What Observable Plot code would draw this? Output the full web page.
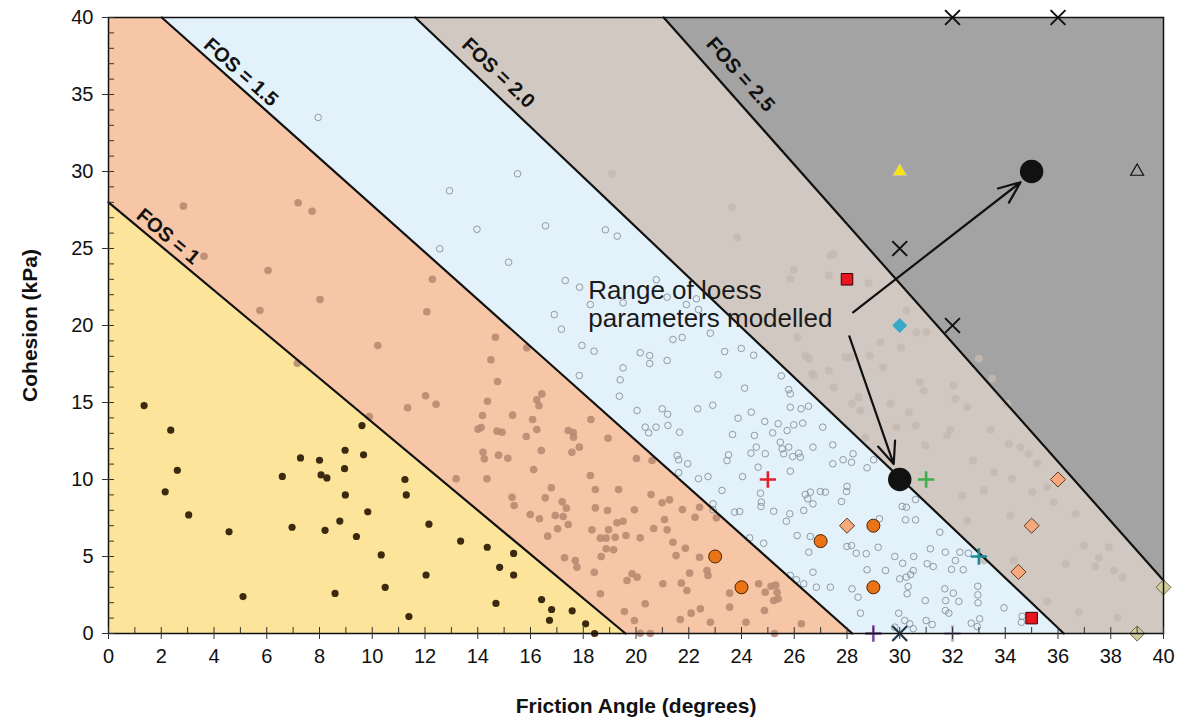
<!DOCTYPE html>
<html><head><meta charset="utf-8">
<script src="https://cdn.jsdelivr.net/npm/d3@7"></script>
<script src="https://cdn.jsdelivr.net/npm/@observablehq/plot@0.6"></script>
<style>body{margin:0;background:#fff}#chart{width:1184px;height:726px}</style>
</head><body><div id="chart"></div>
<script>
// FOS boundary lines [friction angle, cohesion]
const fos1  = [[0,28],[19.6,0]];
const fos15 = [[2.02,40],[28.2,0]];
const fos20 = [[11.63,40],[36.22,0]];
const fos25 = [[21.05,40],[40,3.44]];
const fosLabels = ["FOS = 1","FOS = 1.5","FOS = 2.0","FOS = 2.5"];
const fosLabelX = [2.26,5.02,14.78,23.96];
const fosLabelY = [25.78,36.45,36.4,36.3];
const fosLabelAngle = [39.8,41.8,43.5,48.4];
const regionColors = ["#fce59a","#f7c6a6","#e2f1fa","#d1c9c1","#a3a3a3"];

// scattered case-history points
const lowDots = [[1.35,14.8],[2.36,13.2],[2.61,10.6],[2.15,9.2],[3.04,7.7],[4.57,6.6],[5.10,2.4],[6.59,10.2],[6.96,6.9],[7.28,11.4],[8.0,11.25],[8.06,10.3],[8.28,10.1],[8.21,6.7],[8.59,2.6],[8.77,7.3],[8.97,11.9],[8.95,10.7],[8.98,9.0],[9.40,6.3],[9.61,13.5],[9.67,11.6],[9.83,7.9],[10.34,5.1],[10.49,3.0],[11.24,10.0],[11.29,9.0],[11.39,1.1],[12.04,3.8],[12.15,7.1],[13.35,6.0],[14.36,5.6],[14.69,1.95],[14.83,4.3],[15.36,5.2],[15.36,3.8],[16.42,2.2],[16.72,0.86],[16.80,1.56],[17.58,1.47],[18.09,0.63],[18.43,0]];

const midDots = [[2.84,27.75],[7.19,27.97],[7.72,27.42],[3.62,24.5],[6.05,23.57],[8.02,21.69],[5.74,20.97],[12.28,23.0],[12.07,20.89],[10.21,18.7],[7.16,17.55],[14.67,19.24],[14.5,17.77],[14.75,16.36],[14.37,15.08],[12.02,15.44],[12.42,14.89],[11.34,14.66],[14.18,14.16],[9.89,14.09],[14.01,13.27],[14.13,13.38],[14.73,13.14],[14.2,11.77],[14.25,11.34],[14.79,11.58],[13.18,10.05],[14.35,10.05],[16.43,15.56],[16.24,15.18],[16.32,14.79],[15.32,14.18],[16.08,13.9],[18.29,13.9],[14.92,13.07],[16.24,13.25],[17.43,13.18],[17.62,13.05],[15.84,12.79],[17.63,12.75],[18.94,12.68],[16.41,11.88],[17.57,11.77],[17.85,12.1],[15.14,11.38],[20.02,11.36],[20.61,11.23],[16.12,10.65],[18.27,10.26],[15.86,18.55],[15.3,8.85],[15.38,8.31],[16.79,9.46],[16.56,8.81],[18.46,9.35],[19.34,9.35],[20.57,9.03],[20.99,8.49],[21.27,8.68],[21.76,8.05],[22.41,8.2],[22.24,7.55],[23.05,7.51],[17.2,8.55],[17.36,8.14],[15.99,7.73],[16.34,7.45],[16.94,7.66],[17.24,7.6],[17.43,7.08],[17.03,6.8],[16.65,6.32],[18.46,8.16],[18.92,7.99],[19.94,8.03],[21.08,7.4],[20.67,6.82],[21.18,6.73],[19.28,7.19],[19.51,7.29],[18.96,6.73],[19.62,6.36],[18.65,6.19],[18.87,6.19],[19.21,6.25],[20.16,6.21],[18.33,6.73],[21.4,5.93],[21.87,5.54],[21.52,5.06],[22.41,4.95],[18.87,5.5],[18.68,5.0],[19.15,5.44],[17.29,4.92],[17.7,4.74],[17.76,4.31],[19.85,3.88],[20.04,3.66],[19.66,3.44],[18.42,3.98],[21.02,3.23],[21.72,3.27],[21.93,2.79],[22.03,3.92],[22.69,4.09],[22.73,3.77],[23.55,2.62],[24.65,3.23],[24.9,2.68],[25.12,3.07],[25.3,3.14],[25.35,2.68],[25.22,2.14],[25.39,2.25],[23.55,1.71],[24.87,1.49],[22.44,1.6],[22.09,1.32],[21.68,0.91],[22.82,0.73],[24.17,0.73],[26.27,0.63],[20.35,1.93],[19.94,0.84],[19.56,1.43],[18.65,2.58],[20.16,0.02],[20.54,0],[25.25,0]];

const openCircles = [[7.95,33.51],[12.93,28.75],[13.97,26.25],[12.56,24.98],[15.51,29.85],[16.57,26.47],[18.84,26.21],[19.29,25.8],[15.17,24.11],[17.32,22.92],[17.86,22.49],[18.27,21.36],[19.51,21.47],[16.9,20.71],[17.17,19.76],[17.95,18.7],[18.41,18.33],[20.16,18.23],[20.52,18.05],[20.52,17.53],[21.18,17.73],[21.4,19.09],[21.75,19.22],[21.91,21.36],[22.37,21.04],[21.18,21.84],[20.77,22.97],[22.29,21.73],[22.82,19.5],[23.36,18.31],[23.99,18.51],[24.46,18.07],[17.85,16.75],[19.51,17.25],[19.4,16.47],[19.37,15.41],[23.11,16.8],[24.12,15.93],[25.51,16.73],[25.79,15.84],[25.85,15.56],[20.04,14.48],[20.99,14.59],[21.2,14.24],[22.34,14.59],[22.91,14.82],[24.37,14.37],[25.85,14.69],[26.26,14.59],[26.54,14.76],[23.87,13.98],[24.88,13.77],[25.39,13.62],[25.98,13.55],[26.32,13.66],[27.08,13.4],[25.18,13.03],[25.73,13.18],[20.35,13.4],[20.48,13.03],[20.76,13.4],[21.65,13.07],[23.66,12.92],[24.49,12.86],[25.47,12.42],[25.79,12.1],[25.54,11.99],[27.46,12.25],[26.71,12.1],[24.56,12.1],[23.51,11.6],[23.45,11.23],[24.36,11.71],[24.9,11.67],[25.6,11.67],[25.94,11.49],[26.23,11.45],[27.85,11.28],[28.17,11.12],[28.23,11.67],[28.76,10.76],[29.01,11.28],[21.56,11.56],[21.62,11.28],[21.96,11.02],[21.62,10.45],[22.37,10.05],[22.73,10.19],[24.04,10.19],[24.63,10.8],[25.85,10.54],[21.21,13.51],[27.46,11.02],[23.26,9.29],[24.72,9.11],[24.75,8.53],[24.74,8.25],[25.22,7.94],[25.83,7.77],[25.7,7.29],[23.74,7.88],[23.93,7.92],[22.92,8.42],[22.92,8.03],[26.36,7.99],[26.51,8.75],[26.42,9.03],[26.61,9.18],[26.71,8.42],[26.99,9.22],[27.18,9.18],[27.98,9.22],[28.0,9.55],[27.79,8.57],[26.11,6.36],[26.61,6.3],[28.0,5.65],[28.35,5.21],[28.73,5.18],[28.76,4.14],[28.42,2.36],[28.51,1.32],[28.19,2.9],[26.55,5.28],[26.71,3.98],[25.85,3.77],[26.08,3.49],[26.36,3.23],[26.84,3.01],[27.37,3.01],[24.84,5.86],[24.31,6.21],[26.17,11.71],[29.23,7.45],[29.18,5.6],[28.17,5.71],[30.09,8.25],[30.25,8.2],[30.22,7.38],[30.6,7.38],[30.6,8.7],[31.52,6.58],[31.16,5.5],[31.73,5.28],[32.11,4.74],[32.28,5.28],[30.53,5.0],[30.11,4.56],[29.81,5.0],[31.04,4.53],[31.27,4.35],[31.96,4.16],[32.41,4.14],[30.51,4.09],[30.41,3.83],[30.25,3.66],[30.0,3.55],[29.46,4.09],[30.32,3.05],[30.28,2.58],[30.97,2.14],[31.71,2.9],[32.03,2.62],[31.74,2.14],[32.24,2.08],[32.96,3.07],[32.96,2.51],[32.97,1.99],[33.03,0.95],[33.95,1.67],[31.73,1.49],[31.86,1.32],[29.96,1.32],[30.19,0.84],[30.38,0.63],[30.51,0.31],[31.0,0.84],[31.23,0.58],[32.71,0.67],[32.94,0.45],[29.81,0.41],[34.64,1.12],[34.61,0.73],[32.6,5.21]];

const fadedDots = [[19.09,29.85],[23.64,27.68],[23.83,25.73],[27.5,24.66],[25.98,23.62],[28.82,22.75],[30.25,20.97],[29.27,18.92],[30.05,18.55],[30.63,19.56],[31.01,19.56],[26.42,18.05],[27.94,17.94],[28.86,18.05],[29.37,17.29],[27.31,17.08],[26.68,16.86],[30.76,16.32],[32.03,16.1],[30.91,15.78],[28.44,15.34],[28.19,14.92],[29.65,14.92],[30.34,14.37],[32.11,15.24],[32.56,14.69],[31.92,13.23],[33.44,13.23],[34.14,12.32],[30.6,13.51],[29.87,13.4],[28.7,12.75],[34.07,14.92],[34.58,12.1],[34.89,11.67],[32.78,11.23],[33.51,16.54],[33.0,17.84],[30.97,12.21],[31.8,12.86],[33.57,10.47],[34.26,10.05],[35.59,9.5],[35.21,11.06],[35.02,9.18],[32.37,8.96],[33.19,9.29],[34.2,7.66],[35.84,8.53],[36.67,7.77],[36.98,5.71],[37.55,4.92],[37.42,4.35],[37.93,5.6],[38.12,4.09],[38.44,3.66],[36.79,1.38],[38.25,1.02],[36.29,4.53],[34.32,4.74],[35.59,2.08],[33.19,4.74],[32.56,7.34],[25.85,23.03],[27.31,23.25],[27.37,24.55],[26.55,17.84],[26.74,16.75],[27.5,15.99],[28.51,14.48],[28.13,17.94],[26.11,19.24]];

// modelled / literature parameter markers
const bigCircles = [[30,10],[35,30]];
const orangeCircles = [[23,5],[24,3],[27,6],[29,7],[29,3]];
const salmonDiamonds = [[28,7],[34.5,4],[35,7],[36,10]];
const khakiDiamonds = [[40,3],[39,0]];
const redSquares = [[28,23],[35,1]];
const tealDiamonds = [[30,20]];
const blackTimes = [[32,40],[36,40],[30,25],[32,20]];
const navyTimes = [[30,0]];
const plusX = [25,31,33,29,32];
const plusY = [10,10,5,0,0];
const plusColors = ["#e3202c","#3cae4c","#1f8a98","#7e4f9f","#b9a3d6"];
const yellowTriangles = [[30,30]];
const openTriangles = [[39,30]];

// annotation
const annotationText = "Range of loess\nparameters modelled";
const annotationPos = [18.19,19.89];
const arrowStarts = [[28.23,20.86],[28.09,19.3]];
const arrowEnds = [[34.58,29.3],[29.77,11.0]];

const xMajor = d3.range(0,41,2), xMinor = d3.range(0,41,1);
const yMajor = d3.range(0,41,5), yMinor = d3.range(0,41,1);

function below(line){
  const pts = [];
  if (line[0][0] > 0) pts.push([0,line[0][1]]);
  pts.push(...line);
  const last = line[line.length-1];
  if (last[0] < 40) pts.push([40,last[1]]);
  return pts;
}
const layers = [fos25,fos20,fos15,fos1];
const layerColors = [regionColors[3],regionColors[2],regionColors[1],regionColors[0]];
const fosList = [fos1,fos15,fos20,fos25];
const X = d=>d[0], Y = d=>d[1];

const marks = [
  Plot.frame({fill: regionColors[4], stroke: null}),
  ...layers.map((l,i)=>Plot.areaY(below(l),{x:X, y:Y, fill:layerColors[i]})),
  Plot.dot(fadedDots,{x:X,y:Y,r:4,fill:"#c3b9b0",fillOpacity:0.8}),
  Plot.dot(lowDots,{x:X,y:Y,r:3.6,fill:"#3b2910"}),
  Plot.dot(midDots,{x:X,y:Y,r:3.8,fill:"#b98a72",fillOpacity:0.9}),
  Plot.dot(openCircles,{x:X,y:Y,r:3.3,fill:"none",stroke:"#8a9096",strokeWidth:0.9}),
  ...fosList.map(l=>Plot.line(l,{x:X,y:Y,stroke:"#111",strokeWidth:2.2})),
  Plot.text(fosLabels,{x:(d,i)=>fosLabelX[i], y:(d,i)=>fosLabelY[i], rotate:(d,i)=>fosLabelAngle[i], text:d=>d, fontSize:20, fontWeight:"bold", fill:"#111"}),
  Plot.dot(orangeCircles,{x:X,y:Y,r:6.5,fill:"#ea7317",stroke:"#4a2200",strokeWidth:1}),
  Plot.dot(salmonDiamonds,{x:X,y:Y,r:6.8,symbol:"diamond2",fill:"#f7a87c",stroke:"#5a3a2a",strokeWidth:1}),
  Plot.dot(khakiDiamonds,{x:X,y:Y,r:6.8,symbol:"diamond2",fill:"#d3cc9c",stroke:"#6b6650",strokeWidth:1}),
  Plot.dot(redSquares,{x:X,y:Y,r:6.5,symbol:"square",fill:"#e8141e",stroke:"#3a0000",strokeWidth:1}),
  Plot.dot(tealDiamonds,{x:X,y:Y,r:6.8,symbol:"diamond2",fill:"#3aa8c8",stroke:"none"}),
  Plot.dot(blackTimes,{x:X,y:Y,r:6.8,symbol:"times",stroke:"#111",strokeWidth:2}),
  Plot.dot(navyTimes,{x:X,y:Y,r:6.8,symbol:"times",stroke:"#1d3a4a",strokeWidth:2.2}),
  Plot.dot(plusColors,{x:(d,i)=>plusX[i],y:(d,i)=>plusY[i],r:5.3,symbol:"plus",stroke:d=>d,strokeWidth:2.6}),
  Plot.dot(yellowTriangles,{x:X,y:Y,r:5.2,symbol:"triangle",fill:"#f5e50a",stroke:"#c9b3d8",strokeWidth:0.7}),
  Plot.dot(openTriangles,{x:X,y:Y,r:6.2,symbol:"triangle2",stroke:"#111",strokeWidth:1.2}),
  Plot.dot(bigCircles,{x:X,y:Y,r:11.7,fill:"#111"}),
  Plot.arrow(arrowStarts,{x1:X,y1:Y,x2:(d,i)=>arrowEnds[i][0],y2:(d,i)=>arrowEnds[i][1],stroke:"#111",strokeWidth:2.2,headLength:16,headAngle:45}),
  Plot.text([annotationText],{x:annotationPos[0],y:annotationPos[1],text:d=>d,textAnchor:"start",lineAnchor:"bottom",lineHeight:1.09,fontSize:26,fill:"#1a1a1a"}),
  Plot.frame({stroke:"#111",strokeWidth:1.5}),
  Plot.axisX({ticks:xMinor,tickSize:-6,tickFormat:()=>"",stroke:"#333"}),
  Plot.axisX({ticks:xMajor,tickSize:6,tickPadding:9,fontSize:20,stroke:"#333",label:null}),
  Plot.axisY({ticks:yMinor,tickSize:-6,tickFormat:()=>"",stroke:"#333"}),
  Plot.axisY({ticks:yMajor,tickSize:6,tickPadding:9,fontSize:20,stroke:"#333",label:null}),
  Plot.text(["Cohesion (kPa)"],{frameAnchor:"left",dx:-78,rotate:-90,textAnchor:"middle",text:d=>d,fontSize:21,fontWeight:"bold",fill:"#111"}),
  Plot.text(["Friction Angle (degrees)"],{frameAnchor:"bottom",dy:79,textAnchor:"middle",text:d=>d,fontSize:21,fontWeight:"bold",fill:"#111"})
];

const chart = Plot.plot({
  width:1184, height:726,
  marginLeft:108, marginRight:21, marginTop:17, marginBottom:93,
  x:{domain:[0,40]}, y:{domain:[0,40]},
  style:{fontFamily:"Liberation Sans, Arial, sans-serif", background:"#fff", color:"#111", overflow:"visible"},
  marks
});
document.getElementById("chart").appendChild(chart);
</script>
</body></html>
